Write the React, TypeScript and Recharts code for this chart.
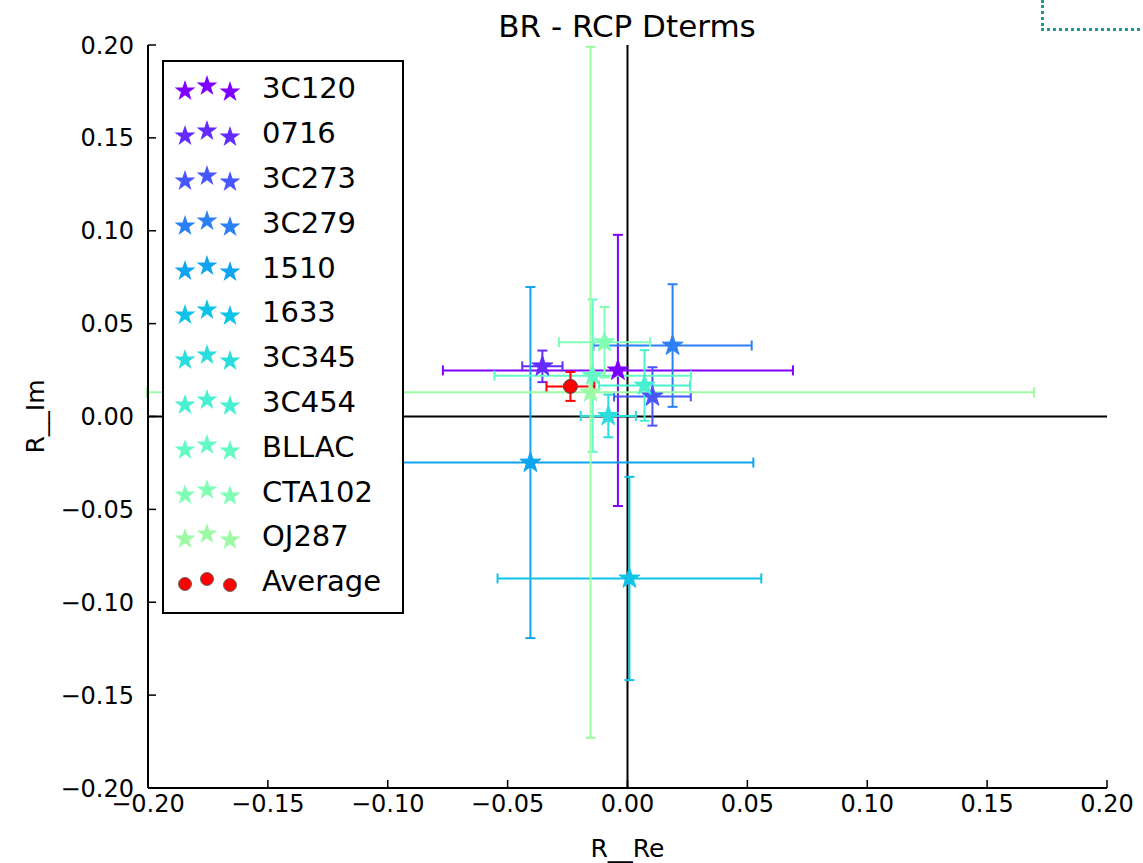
import {
  ScatterChart,
  Scatter,
  XAxis,
  YAxis,
  ErrorBar,
  ReferenceLine,
  Legend,
} from 'recharts'

const seriesNames = ['3C120', '0716', '3C273', '3C279', '1510', '1633', '3C345', '3C454', 'BLLAC', 'CTA102', 'OJ287', 'Average']
const reValues = [-0.004, -0.0355, 0.0104, 0.0188, -0.0405, 0.0008, -0.008, 0.0071, -0.0145, -0.0096, -0.0154, -0.0238]
const imValues = [0.0248, 0.027, 0.0108, 0.0382, -0.0248, -0.0872, 0.0003, 0.0167, 0.022, 0.04, 0.013, 0.0162]
const reErrors = [0.073, 0.0084, 0.016, 0.033, 0.093, 0.055, 0.0115, 0.019, 0.041, 0.019, 0.185, 0.01]
const imErrors = [0.073, 0.0085, 0.0157, 0.033, 0.0945, 0.0547, 0.0115, 0.019, 0.041, 0.019, 0.186, 0.0078]
const seriesColors = ['#8000ff', '#632cfe', '#4757fb', '#2b80f6', '#0ea4f0', '#0ec3e7', '#2bdddd', '#47f0d1', '#63fbc3', '#80ffb4', '#9cfba4', '#ff0000']
const axisTicks = [-0.2, -0.15, -0.1, -0.05, 0, 0.05, 0.1, 0.15, 0.2]

const FONT = 'DejaVu Sans'

const fmt = (v: number) => (v < 0 ? '\u2212' : '') + Math.abs(v).toFixed(2)
const blank = () => ''

function starPoints(cx: number, cy: number, r: number) {
  const pts: string[] = []
  for (let k = 0; k < 10; k++) {
    const rr = k % 2 === 0 ? r : r * 0.39
    const a = -Math.PI / 2 + (k * Math.PI) / 5
    pts.push(`${cx + rr * Math.cos(a)},${cy + rr * Math.sin(a)}`)
  }
  return pts.join(' ')
}

function StarMark(props: any) {
  const { cx, cy, fill } = props
  if (cx == null || cy == null) return null
  return <polygon points={starPoints(cx, cy, 11)} fill={fill} stroke={fill} strokeWidth={1} />
}

function DotMark(props: any) {
  const { cx, cy, fill } = props
  if (cx == null || cy == null) return null
  return <circle cx={cx} cy={cy} r={7} fill={fill} stroke="#444" strokeWidth={1} />
}

function LegendBox(props: any) {
  const payload = [...(props.payload || [])].sort(
    (a: any, b: any) => seriesNames.indexOf(a.value) - seriesNames.indexOf(b.value)
  )
  const offs = [3, -2, 4]
  return (
    <div
      style={{
        width: 238,
        height: 546,
        border: '2px solid #000',
        background: '#fff',
        paddingTop: 4,
        fontFamily: FONT,
        fontSize: 29,
        color: '#000',
      }}
    >
      {payload.map((p: any, i: number) => (
        <div key={i} style={{ height: 44.8, display: 'flex', alignItems: 'center' }}>
          <svg width={98} height={40} style={{ flex: 'none' }}>
            {[21, 43, 66].map((x, j) =>
              p.value === 'Average' ? (
                <circle key={j} cx={x} cy={20 + offs[j]} r={6.5} fill={p.color} stroke="#666" strokeWidth={1} />
              ) : (
                <polygon key={j} points={starPoints(x, 20 + offs[j], 11)} fill={p.color} />
              )
            )}
          </svg>
          <span>{p.value}</span>
        </div>
      ))}
    </div>
  )
}

export default function App() {
  const seriesData = seriesNames.map((name, i) => ({
    name,
    color: seriesColors[i],
    points: [{ x: reValues[i], y: imValues[i], ex: reErrors[i], ey: imErrors[i] }],
  }))

  return (
    <div style={{ position: 'absolute', left: 0, top: 0, width: 1143, height: 863, background: '#fff' }}>
      <div
        style={{
          position: 'absolute',
          left: 427,
          width: 400,
          top: 8,
          textAlign: 'center',
          fontFamily: FONT,
          fontSize: 31,
          color: '#000',
          lineHeight: '36px',
        }}
      >
        BR - RCP Dterms
      </div>
      <ScatterChart
        width={1143}
        height={863}
        margin={{ top: 45, right: 36, bottom: 0, left: 0 }}
        style={{ fontFamily: FONT }}
      >
        <XAxis
          type="number"
          dataKey="x"
          domain={[-0.2, 0.2]}
          ticks={axisTicks}
          allowDataOverflow
          height={75}
          tickFormatter={fmt}
          tickSize={-8}
          tickMargin={15}
          axisLine={{ stroke: '#000', strokeWidth: 2 }}
          tickLine={{ stroke: '#000', strokeWidth: 1.5 }}
          tick={{ fill: '#000', fontSize: 24 }}
          label={{ value: 'R__Re', position: 'insideBottom', offset: 6, fill: '#000', fontSize: 25 }}
        />
        <XAxis
          xAxisId="top"
          orientation="top"
          type="number"
          domain={[-0.2, 0.2]}
          ticks={axisTicks}
          allowDataOverflow
          height={0}
          mirror
          tickFormatter={blank}
          tickSize={8}
          axisLine={{ stroke: '#000', strokeWidth: 2 }}
          tickLine={{ stroke: '#000', strokeWidth: 1.5 }}
        />
        <YAxis
          type="number"
          dataKey="y"
          domain={[-0.2, 0.2]}
          ticks={axisTicks}
          allowDataOverflow
          width={148}
          tickFormatter={fmt}
          tickSize={-8}
          tickMargin={22}
          axisLine={{ stroke: '#000', strokeWidth: 2 }}
          tickLine={{ stroke: '#000', strokeWidth: 1.5 }}
          tick={{ fill: '#000', fontSize: 24 }}
          label={{ value: 'R__Im', angle: -90, position: 'insideLeft', offset: 35, fill: '#000', fontSize: 25, style: { textAnchor: 'middle' } }}
        />
        <YAxis
          yAxisId="right"
          orientation="right"
          type="number"
          domain={[-0.2, 0.2]}
          ticks={axisTicks}
          allowDataOverflow
          width={0}
          mirror
          tickFormatter={blank}
          tickSize={8}
          axisLine={{ stroke: '#000', strokeWidth: 2 }}
          tickLine={{ stroke: '#000', strokeWidth: 1.5 }}
        />
        <ReferenceLine x={0} stroke="#000" strokeWidth={2} />
        <ReferenceLine y={0} stroke="#000" strokeWidth={2} />
        {seriesData.map((s) => (
          <Scatter
            key={s.name}
            name={s.name}
            data={s.points}
            fill={s.color}
            shape={s.name === 'Average' ? DotMark : StarMark}
            isAnimationActive={false}
          >
            <ErrorBar dataKey="ex" direction="x" width={5} stroke={s.color} strokeWidth={2} isAnimationActive={false} />
            <ErrorBar dataKey="ey" direction="y" width={5} stroke={s.color} strokeWidth={2} isAnimationActive={false} />
          </Scatter>
        ))}
        <Legend
          layout="vertical"
          align="center"
          verticalAlign="middle"
          content={<LegendBox />}
          wrapperStyle={{ left: 162, top: 60, width: 'auto', height: 'auto' }}
        />
      </ScatterChart>
      <div
        style={{
          position: 'absolute',
          left: 1041,
          top: 0,
          width: 102,
          height: 28,
          borderLeft: '3px dotted #1a9a9a',
          borderBottom: '3px dotted #1a9a9a',
        }}
      />
    </div>
  )
}
